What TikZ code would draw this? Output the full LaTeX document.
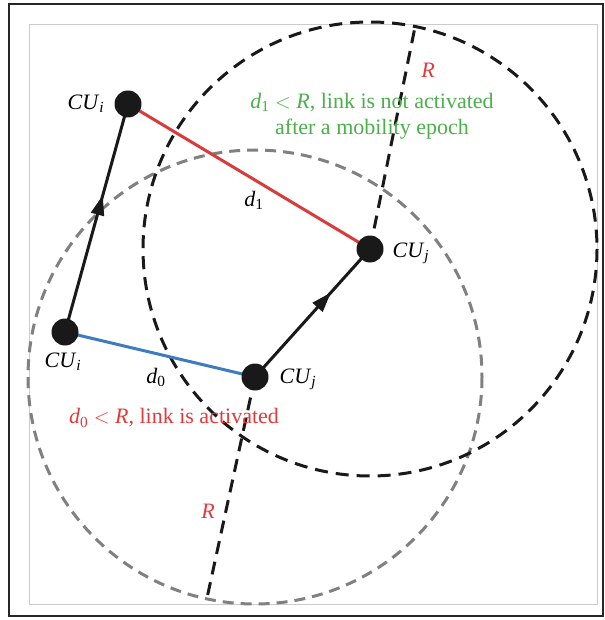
\documentclass[tikz,border=0pt]{standalone}
\usepackage{fontspec}
\setmainfont{Liberation Serif}
\usetikzlibrary{arrows.meta,decorations.markings}

\definecolor{linkred}{RGB}{217,58,58}
\definecolor{linkblue}{RGB}{61,124,192}
\definecolor{txtgreen}{RGB}{74,176,74}
\definecolor{txtred}{RGB}{226,58,58}
\definecolor{rangegray}{RGB}{128,128,128}

\newcommand{\cuname}[1]{\textit{CU}\textsubscript{\textit{#1}}}
\newcommand{\dname}[1]{\textit{d}\textsubscript{#1}}

\tikzset{
  cu/.style={circle, fill=black!90, minimum size=27pt, inner sep=0pt},
  lbl/.style={font=\fontsize{22}{26}\selectfont, inner sep=1pt},
  move/.style={line width=3pt, black!90, postaction={decorate},
    decoration={markings, mark=at position #1 with {\arrow{Triangle[length=20pt,width=13pt]}}}},
  radline/.style={line width=3pt, dash pattern=on 13pt off 8pt}
}

\begin{document}
\begin{tikzpicture}[x=1pt, y=-1pt]
  \useasboundingbox (0,0) rectangle (604,620);
  % frames
  \draw [line width=1.8pt, black!85] (9,4) rectangle (603,616);
  \draw [line width=0.8pt, black!20] (29,24) rectangle (597,604);

  % positions
  \coordinate (pi1) at (65,332);
  \coordinate (pi2) at (128,104);
  \coordinate (pj1) at (255,377);
  \coordinate (pj2) at (370,249);
  \coordinate (rtop) at (415,27);
  \coordinate (rbot) at (207,598);

  % range circles
  \draw [radline, rangegray, dash pattern=on 11pt off 7pt] (pj1) circle [radius=227];
  \draw [radline, black!90] (pj2) circle [radius=227];
  \draw [radline, black!90] (pj2) -- (rtop);
  \draw [radline, black!90] (pj1) -- (rbot);

  % links
  \draw [line width=3pt, linkred] (pi2) -- (pj2);
  \draw [line width=3pt, linkblue] (pi1) -- (pj1);

  % mobility
  \draw [move=0.6] (pi1) -- (pi2);
  \draw [move=0.66] (pj1) -- (pj2);

  % nodes
  \node [cu] (cui1) at (pi1) {};
  \node [cu] (cui2) at (pi2) {};
  \node [cu] (cuj1) at (pj1) {};
  \node [cu] (cuj2) at (pj2) {};

  % labels
  \node [lbl] at (86,104) {\cuname{i}};
  \node [lbl] at (63,362) {\cuname{i}};
  \node [lbl] at (411,253) {\cuname{j}};
  \node [lbl] at (298,379) {\cuname{j}};
  \node [lbl] at (254,200) {\dname{1}};
  \node [lbl] at (156,377) {\dname{0}};
  \node [lbl, txtred] at (428,70) {\textit{R}};
  \node [lbl, txtred] at (208,511) {\textit{R}};
  \node [lbl, txtgreen, align=center] at (372,116)
    {\dname{1} $<$ \textit{R}, link is not activated\\after a mobility epoch};
  \node [lbl, txtred] at (174,418) {\dname{0} $<$ \textit{R}, link is activated};
\end{tikzpicture}
\end{document}
